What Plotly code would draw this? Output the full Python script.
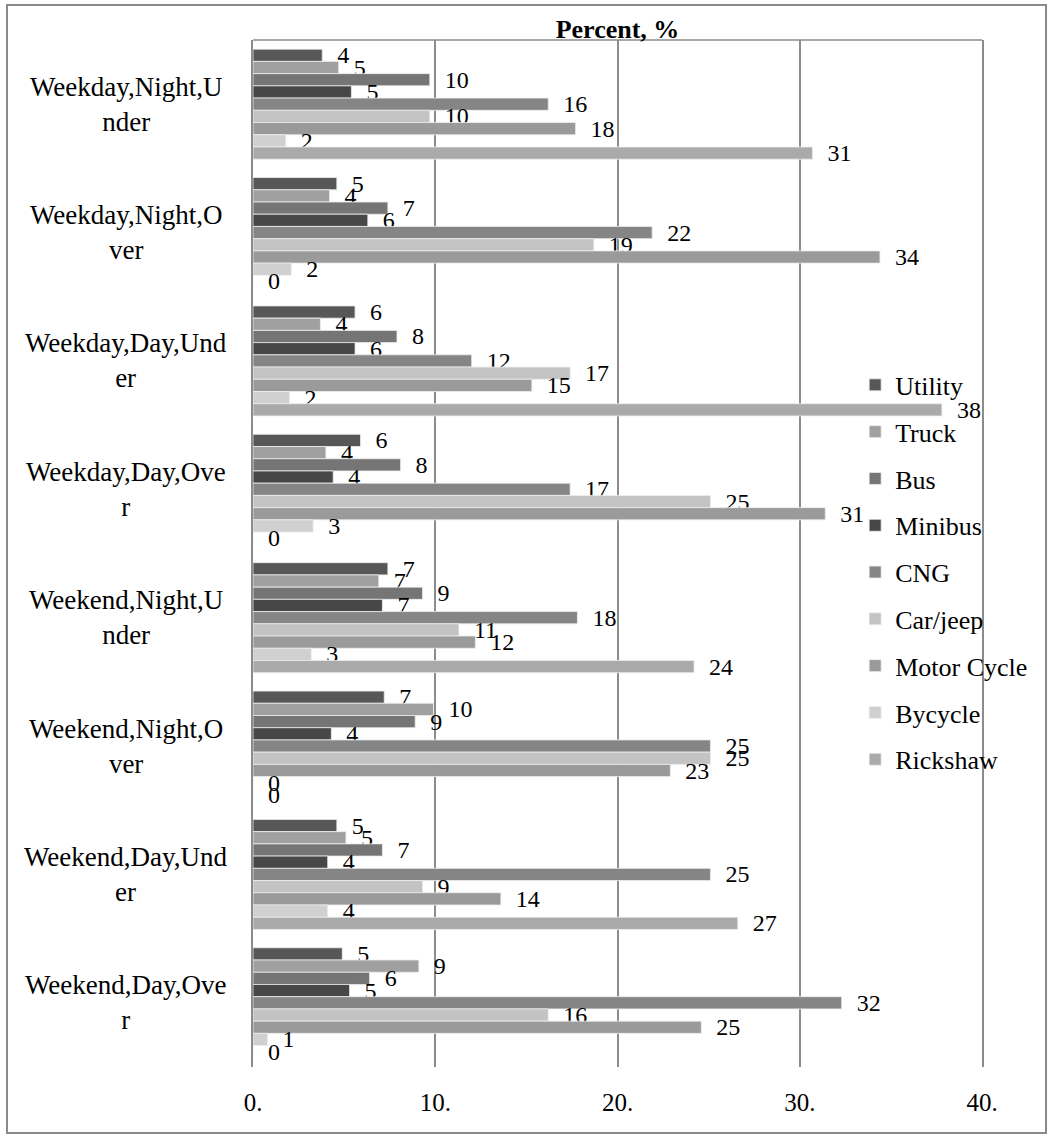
import plotly.graph_objects as go

categories = ["Weekday,Night,Under", "Weekday,Night,Over", "Weekday,Day,Under", "Weekday,Day,Over",
              "Weekend,Night,Under", "Weekend,Night,Over", "Weekend,Day,Under", "Weekend,Day,Over"]
category_labels = ["Weekday,Night,U<br>nder", "Weekday,Night,O<br>ver", "Weekday,Day,Und<br>er",
                   "Weekday,Day,Ove<br>r", "Weekend,Night,U<br>nder", "Weekend,Night,O<br>ver",
                   "Weekend,Day,Und<br>er", "Weekend,Day,Ove<br>r"]

series_names = ["Utility", "Truck", "Bus", "Minibus", "CNG", "Car/jeep", "Motor Cycle", "Bycycle", "Rickshaw"]
utility = [3.8, 4.6, 5.6, 5.9, 7.4, 7.2, 4.6, 4.9]
truck = [4.7, 4.2, 3.7, 4.0, 6.9, 9.9, 5.1, 9.1]
bus = [9.7, 7.4, 7.9, 8.1, 9.3, 8.9, 7.1, 6.4]
minibus = [5.4, 6.3, 5.6, 4.4, 7.1, 4.3, 4.1, 5.3]
cng = [16.2, 21.9, 12.0, 17.4, 17.8, 25.1, 25.1, 32.3]
car_jeep = [9.7, 18.7, 17.4, 25.1, 11.3, 25.1, 9.3, 16.2]
motor_cycle = [17.7, 34.4, 15.3, 31.4, 12.2, 22.9, 13.6, 24.6]
bycycle = [1.8, 2.1, 2.0, 3.3, 3.2, 0.0, 4.1, 0.8]
rickshaw = [30.7, 0.0, 37.8, 0.0, 24.2, 0.0, 26.6, 0.0]

x_tickvals = [0, 10, 20, 30, 40]
x_ticktext = ["0.", "10.", "20.", "30.", "40."]

series_values = [utility, truck, bus, minibus, cng, car_jeep, motor_cycle, bycycle, rickshaw]
colors = ["#575757", "#a0a0a0", "#757575", "#474747", "#858585", "#c3c3c3", "#9a9a9a", "#d0d0d0", "#aaaaaa"]

FONT = "Liberation Serif, Times New Roman, serif"
GRID = "#8c8c8c"

fig = go.Figure()
for name, vals, col in zip(series_names, series_values, colors):
    fig.add_trace(go.Bar(
        y=categories, x=vals, name=name, orientation="h",
        marker=dict(color=col, line=dict(color="#eeeeee", width=0.8)),
        texttemplate="\u00a0\u00a0%{x:.0f}", textposition="outside",
        constraintext="none", cliponaxis=False,
        textfont=dict(family=FONT, size=24, color="black"),
        legendgroup=name,
    ))

for cat, lab in zip(categories, category_labels):
    fig.add_annotation(x=-0.174, xref="paper", y=cat, yref="y", text=lab, showarrow=False,
                       xanchor="center", yanchor="middle", align="center",
                       font=dict(family=FONT, size=27, color="black"))

fig.update_layout(
    width=1053, height=1137,
    margin=dict(l=253, r=71, t=40, b=70),
    paper_bgcolor="white", plot_bgcolor="white",
    barmode="group", bargap=0.143, bargroupgap=0,
    font=dict(family=FONT, color="black"),
    title=dict(text="<b>Percent, %</b>", x=0.5, xref="paper", xanchor="center",
               y=1 - 29 / 1137, yref="container", yanchor="middle",
               font=dict(family=FONT, size=26, color="black")),
    legend=dict(x=0.826, y=0.687, xanchor="left", yanchor="top", bgcolor="rgba(0,0,0,0)",
                traceorder="grouped", tracegroupgap=10,
                font=dict(family=FONT, size=26, color="black")),
    xaxis=dict(range=[0, 40], tickvals=x_tickvals, ticktext=x_ticktext, showgrid=True,
               gridcolor=GRID, gridwidth=1.5, zeroline=False, showline=False, ticks="",
               ticklabelstandoff=18, tickfont=dict(family=FONT, size=25, color="black")),
    yaxis=dict(type="category", categoryorder="array", categoryarray=categories,
               autorange="reversed", showticklabels=False, showgrid=False, ticks="",
               showline=True, mirror=True, linecolor=GRID, linewidth=1.5),
    shapes=[
        dict(type="line", xref="x domain", yref="y domain", x0=0, x1=1, y0=1, y1=1,
             line=dict(color=GRID, width=1.5)),
        dict(type="rect", xref="paper", yref="paper",
             x0=(7 - 253) / 729, x1=(1046 - 253) / 729,
             y0=(1067 - 1133) / 1027, y1=(1067 - 5) / 1027,
             line=dict(color="#8a8a8a", width=2), fillcolor="rgba(0,0,0,0)", layer="below"),
    ],
)

fig.write_html("out.html", config={"displayModeBar": False},
               post_script="document.body.style.margin='0';")
